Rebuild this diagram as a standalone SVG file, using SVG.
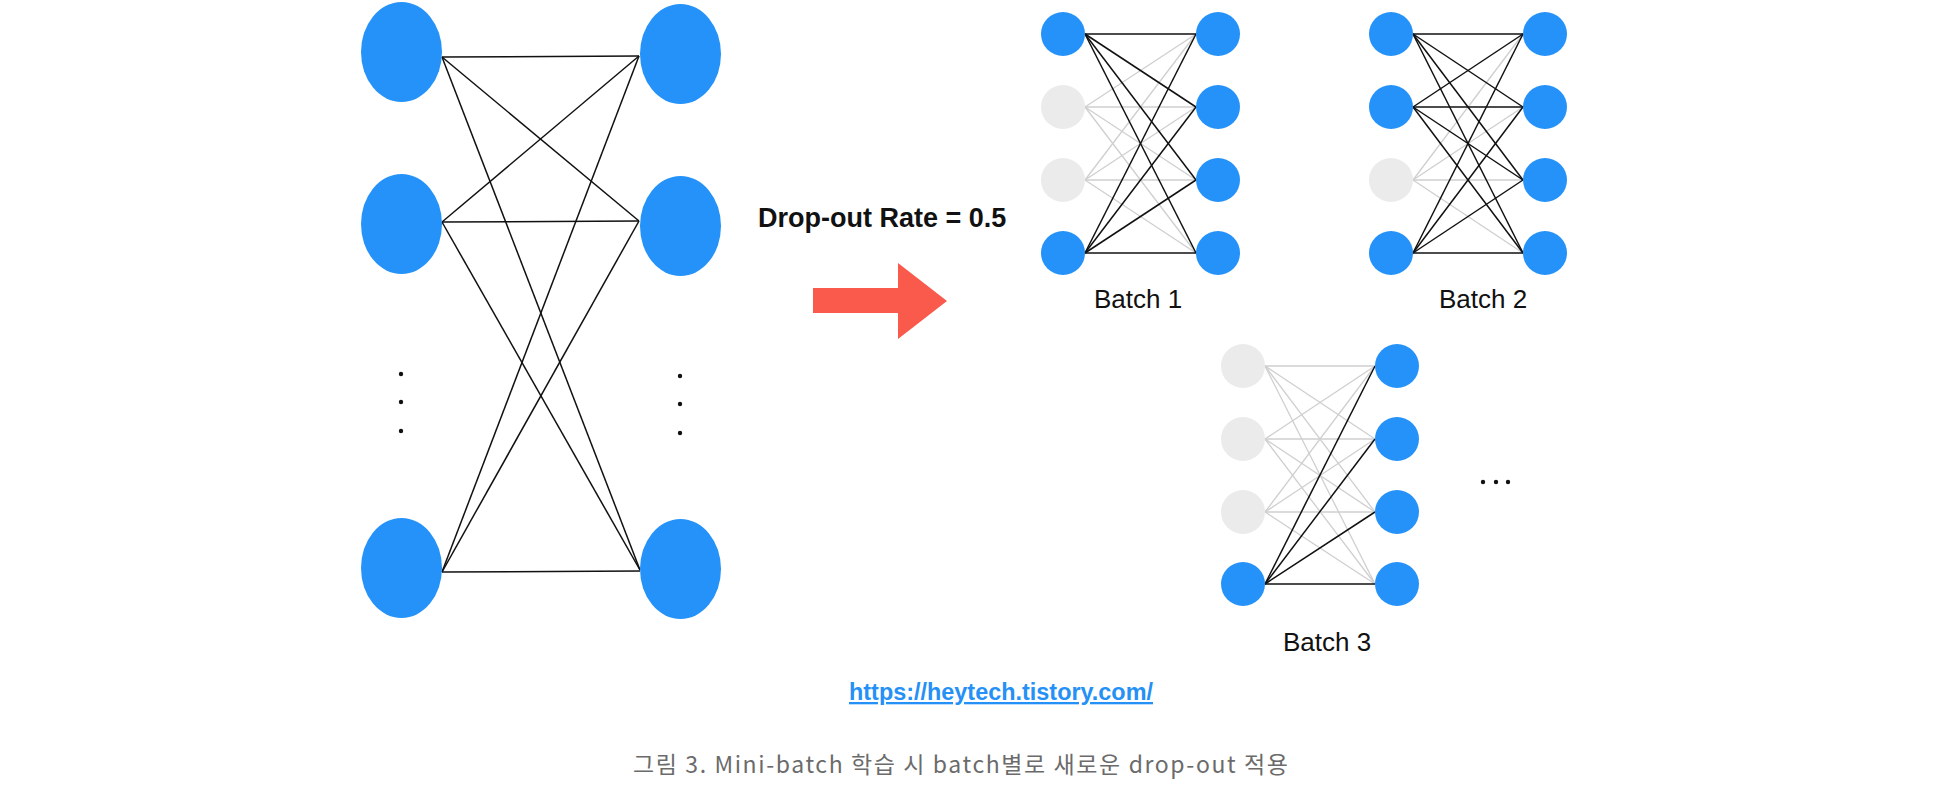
<svg xmlns="http://www.w3.org/2000/svg" width="1938" height="796" viewBox="0 0 1938 796">
<style>
.blue{fill:#2592f9}
.off{fill:#ebebeb}
.dot{fill:#111}
.k{stroke:#111;stroke-width:1.5;fill:none}
.g{stroke:#cfcfcf;stroke-width:1.3;fill:none}
.lbl{font-family:"Liberation Sans",Arial,sans-serif;font-size:26px;fill:#111}
</style>
<rect width="1938" height="796" fill="#fff"/>

<g id="connectors">
  <!-- big network -->
  <g class="k">
    <line x1="442" y1="57" x2="639" y2="56"/>
    <line x1="442" y1="57" x2="639" y2="221"/>
    <line x1="442" y1="57" x2="640" y2="570"/>
    <line x1="442" y1="222" x2="639" y2="56"/>
    <line x1="442" y1="222" x2="639" y2="221"/>
    <line x1="442" y1="222" x2="640" y2="570"/>
    <line x1="442" y1="572" x2="639" y2="56"/>
    <line x1="442" y1="572" x2="639" y2="221"/>
    <line x1="442" y1="572" x2="640" y2="571"/>
  </g>
  <!-- batch 1 -->
  <g class="g">
    <line x1="1085" y1="107" x2="1196" y2="34"/>
    <line x1="1085" y1="107" x2="1196" y2="107"/>
    <line x1="1085" y1="107" x2="1196" y2="180"/>
    <line x1="1085" y1="107" x2="1196" y2="253"/>
    <line x1="1085" y1="180" x2="1196" y2="34"/>
    <line x1="1085" y1="180" x2="1196" y2="107"/>
    <line x1="1085" y1="180" x2="1196" y2="180"/>
    <line x1="1085" y1="180" x2="1196" y2="253"/>
  </g>
  <g class="k">
    <line x1="1085" y1="34" x2="1196" y2="34"/>
    <line x1="1085" y1="34" x2="1196" y2="107"/>
    <line x1="1085" y1="34" x2="1196" y2="180"/>
    <line x1="1085" y1="34" x2="1196" y2="253"/>
    <line x1="1085" y1="253" x2="1196" y2="34"/>
    <line x1="1085" y1="253" x2="1196" y2="107"/>
    <line x1="1085" y1="253" x2="1196" y2="180"/>
    <line x1="1085" y1="253" x2="1196" y2="253"/>
  </g>
  <!-- batch 2 -->
  <g class="g">
    <line x1="1413" y1="180" x2="1523" y2="34"/>
    <line x1="1413" y1="180" x2="1523" y2="107"/>
    <line x1="1413" y1="180" x2="1523" y2="180"/>
    <line x1="1413" y1="180" x2="1523" y2="253"/>
  </g>
  <g class="k">
    <line x1="1413" y1="34" x2="1523" y2="34"/>
    <line x1="1413" y1="34" x2="1523" y2="107"/>
    <line x1="1413" y1="34" x2="1523" y2="180"/>
    <line x1="1413" y1="34" x2="1523" y2="253"/>
    <line x1="1413" y1="107" x2="1523" y2="34"/>
    <line x1="1413" y1="107" x2="1523" y2="107"/>
    <line x1="1413" y1="107" x2="1523" y2="180"/>
    <line x1="1413" y1="107" x2="1523" y2="253"/>
    <line x1="1413" y1="253" x2="1523" y2="34"/>
    <line x1="1413" y1="253" x2="1523" y2="107"/>
    <line x1="1413" y1="253" x2="1523" y2="180"/>
    <line x1="1413" y1="253" x2="1523" y2="253"/>
  </g>
  <!-- batch 3 -->
  <g class="g">
    <line x1="1265" y1="366" x2="1375" y2="366"/>
    <line x1="1265" y1="366" x2="1375" y2="439"/>
    <line x1="1265" y1="366" x2="1375" y2="512"/>
    <line x1="1265" y1="366" x2="1375" y2="584"/>
    <line x1="1265" y1="439" x2="1375" y2="366"/>
    <line x1="1265" y1="439" x2="1375" y2="439"/>
    <line x1="1265" y1="439" x2="1375" y2="512"/>
    <line x1="1265" y1="439" x2="1375" y2="584"/>
    <line x1="1265" y1="512" x2="1375" y2="366"/>
    <line x1="1265" y1="512" x2="1375" y2="439"/>
    <line x1="1265" y1="512" x2="1375" y2="512"/>
    <line x1="1265" y1="512" x2="1375" y2="584"/>
  </g>
  <g class="k">
    <line x1="1265" y1="584" x2="1375" y2="366"/>
    <line x1="1265" y1="584" x2="1375" y2="439"/>
    <line x1="1265" y1="584" x2="1375" y2="512"/>
    <line x1="1265" y1="584" x2="1375" y2="584"/>
  </g>
</g>

<!-- big network nodes -->
<g id="big-in-1"><ellipse class="blue" cx="401.5" cy="52" rx="40.5" ry="50"/></g>
<g id="big-in-2"><ellipse class="blue" cx="401.5" cy="224" rx="40.5" ry="50"/></g>
<g id="big-in-n"><ellipse class="blue" cx="401.5" cy="568" rx="40.5" ry="50"/></g>
<g id="big-out-1"><ellipse class="blue" cx="680.5" cy="54" rx="40.5" ry="50"/></g>
<g id="big-out-2"><ellipse class="blue" cx="680.5" cy="226" rx="40.5" ry="50"/></g>
<g id="big-out-n"><ellipse class="blue" cx="680.5" cy="569" rx="40.5" ry="50"/></g>
<g id="big-dots-left" class="dot">
  <circle cx="401" cy="374" r="2.2"/><circle cx="401" cy="402" r="2.2"/><circle cx="401" cy="431" r="2.2"/>
</g>
<g id="big-dots-right" class="dot">
  <circle cx="680" cy="376" r="2.2"/><circle cx="680" cy="404" r="2.2"/><circle cx="680" cy="433" r="2.2"/>
</g>

<!-- arrow + rate label -->
<g id="dropout-arrow">
  <polygon points="813,288 898,288 898,263 947,301 898,339 898,313 813,313" fill="#f95a4c"/>
</g>
<g id="rate-label">
  <text x="758" y="227" font-family="'Liberation Sans',Arial,sans-serif" font-size="27" font-weight="bold" fill="#111">Drop-out Rate = 0.5</text>
</g>

<!-- batch 1 -->
<g id="batch1">
  <circle class="blue" cx="1063" cy="34" r="22"/>
  <circle class="off" cx="1063" cy="107" r="22"/>
  <circle class="off" cx="1063" cy="180" r="22"/>
  <circle class="blue" cx="1063" cy="253" r="22"/>
  <circle class="blue" cx="1218" cy="34" r="22"/>
  <circle class="blue" cx="1218" cy="107" r="22"/>
  <circle class="blue" cx="1218" cy="180" r="22"/>
  <circle class="blue" cx="1218" cy="253" r="22"/>
  <text class="lbl" x="1094" y="308">Batch 1</text>
</g>

<!-- batch 2 -->
<g id="batch2">
  <circle class="blue" cx="1391" cy="34" r="22"/>
  <circle class="blue" cx="1391" cy="107" r="22"/>
  <circle class="off" cx="1391" cy="180" r="22"/>
  <circle class="blue" cx="1391" cy="253" r="22"/>
  <circle class="blue" cx="1545" cy="34" r="22"/>
  <circle class="blue" cx="1545" cy="107" r="22"/>
  <circle class="blue" cx="1545" cy="180" r="22"/>
  <circle class="blue" cx="1545" cy="253" r="22"/>
  <text class="lbl" x="1439" y="308">Batch 2</text>
</g>

<!-- batch 3 -->
<g id="batch3">
  <circle class="off" cx="1243" cy="366" r="22"/>
  <circle class="off" cx="1243" cy="439" r="22"/>
  <circle class="off" cx="1243" cy="512" r="22"/>
  <circle class="blue" cx="1243" cy="584" r="22"/>
  <circle class="blue" cx="1397" cy="366" r="22"/>
  <circle class="blue" cx="1397" cy="439" r="22"/>
  <circle class="blue" cx="1397" cy="512" r="22"/>
  <circle class="blue" cx="1397" cy="584" r="22"/>
  <text class="lbl" x="1283" y="651">Batch 3</text>
</g>

<g id="more-batches" class="dot">
  <circle cx="1483" cy="482" r="2.2"/><circle cx="1496" cy="482" r="2.2"/><circle cx="1508" cy="482" r="2.2"/>
</g>

<g id="source-link">
  <text x="849" y="700" font-family="'Liberation Sans',Arial,sans-serif" font-size="23" font-weight="bold" fill="#2590f5" text-decoration="underline" textLength="304" lengthAdjust="spacingAndGlyphs">https://heytech.tistory.com/</text>
</g>

<g id="caption">
  <text x="633" y="773" font-family="'Noto Sans CJK KR','Noto Sans',sans-serif" font-size="23" fill="#6b6b6b" textLength="655" lengthAdjust="spacing">그림 3. Mini-batch 학습 시 batch별로 새로운 drop-out 적용</text>
</g>
</svg>
